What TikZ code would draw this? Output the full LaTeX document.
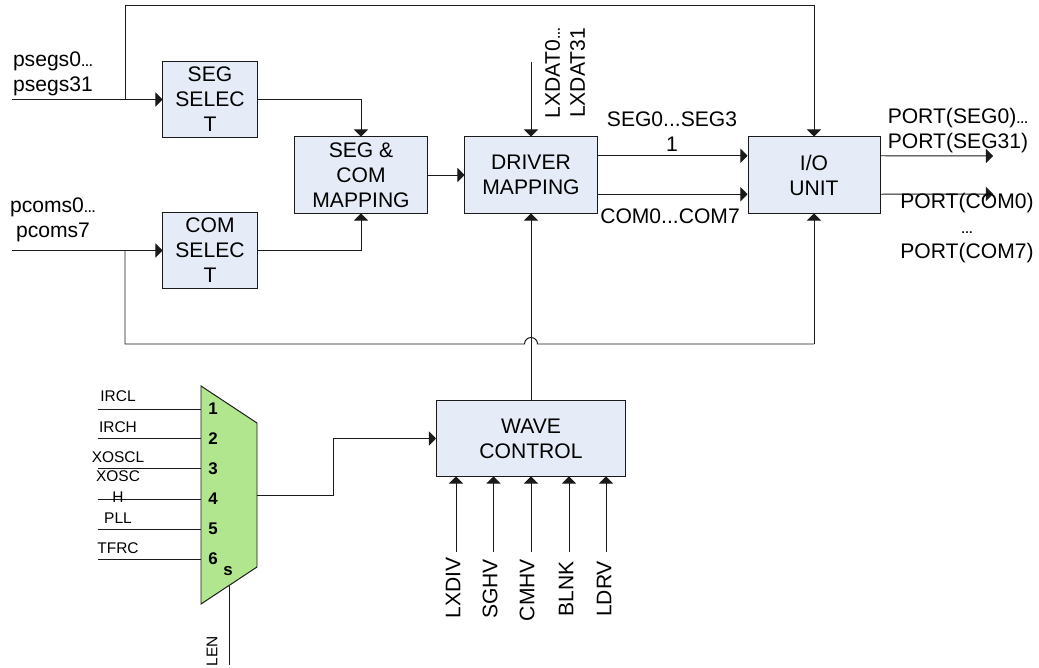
\documentclass[tikz,border=0pt]{standalone}
\usepackage{xcolor}
\usepackage{fontspec}
\usepackage{tikz}
\usetikzlibrary{arrows.meta,calc}
\setmainfont{Liberation Sans}
\definecolor{boxbg}{HTML}{E6ECF7}
\definecolor{muxbg}{HTML}{B2E68E}
\definecolor{wire}{HTML}{1A1A1A}
\newcommand{\tightdots}{{\fontsize{8.5}{8.5}\selectfont\bfseries …}}

\begin{document}
\begin{tikzpicture}[
  x=0.025cm, y=-0.025cm,
  block/.style={rectangle, draw=wire, fill=boxbg, line width=0.7pt, inner sep=0pt, align=center, font=\fontsize{15}{17.8}\selectfont},
  label/.style={inner sep=0pt, align=center, font=\fontsize{15}{17.8}\selectfont},
  small/.style={inner sep=0pt, align=center, font=\fontsize{11}{14.9}\selectfont},
  pin/.style={inner sep=0pt, font=\fontsize{12}{12}\selectfont\bfseries},
  wired/.style={draw=wire, line width=0.7pt},
  arrow/.style={-{Triangle[length=5pt, width=10pt]}, draw=wire, line width=0.7pt}
]
  \useasboundingbox (0, 0) rectangle (1039, 668);

  \node[block, minimum width=94*0.7113pt, minimum height=75*0.7113pt] (segSel) at (210, 99.5) {SEG\\SELEC\\T};
  \node[block, minimum width=94*0.7113pt, minimum height=75*0.7113pt] (comSel) at (210, 250.5) {COM\\SELEC\\T};
  \node[block, minimum width=132*0.7113pt, minimum height=76*0.7113pt] (mapping) at (361, 175) {SEG \&\\COM\\MAPPING};
  \node[block, minimum width=132*0.7113pt, minimum height=76*0.7113pt] (driver) at (531, 175) {DRIVER\\MAPPING};
  \node[block, minimum width=132*0.7113pt, minimum height=76*0.7113pt] (ioUnit) at (814, 175) {I/O\\UNIT};
  \node[block, minimum width=189*0.7113pt, minimum height=75*0.7113pt] (wave) at (531, 438.5) {WAVE\\CONTROL};

  % free ends and corners
  \coordinate (segIn) at (12, 99.5);
  \coordinate (segJoin) at (125, 99.5);
  \coordinate (topRun) at (125, 5);
  \coordinate (comIn) at (12, 250.5);
  \coordinate (comJoin) at (125, 250.5);
  \coordinate (busLeft) at (125, 344);
  \coordinate (hopLeft) at (524.5, 344);
  \coordinate (hopRight) at (537.5, 344);
  \coordinate (busRight) at (814, 344);
  \coordinate (lxdatIn) at (531, 62);
  \coordinate (segOut) at (993, 156);
  \coordinate (comOut) at (993, 194);

  \draw[arrow] (segIn) -- (segSel.west);
  \draw[arrow] (comIn) -- (comSel.west);
  \draw[wired] (segJoin) -- (topRun);
  \draw[arrow] (topRun) -| (ioUnit.north);
  \draw[arrow] (segSel.east) -| (mapping.north);
  \draw[arrow] (comSel.east) -| (mapping.south);
  \draw[arrow] (mapping) -- (driver);
  \draw[arrow] (lxdatIn) -- (driver.north);
  \draw[arrow] (wave.north) -- (driver.south);
  \draw[wired] (comJoin) -- (busLeft) -- (hopLeft) arc[start angle=180, end angle=0, radius=0.1625cm] -- (busRight);
  \draw[arrow] (busRight) -- (ioUnit.south);
  \draw[arrow] ($(driver.north east)!0.25!(driver.south east)$) -- ($(ioUnit.north west)!0.25!(ioUnit.south west)$);
  \draw[arrow] ($(driver.north east)!0.75!(driver.south east)$) -- ($(ioUnit.north west)!0.75!(ioUnit.south west)$);
  \draw[arrow] ($(ioUnit.north east)!0.25!(ioUnit.south east)$) -- (segOut);
  \draw[arrow] ($(ioUnit.north east)!0.75!(ioUnit.south east)$) -- (comOut);

  \node[label] (psegs) at (53, 74) {psegs0\tightdots\\psegs31};
  \node[label] (pcoms) at (53, 220) {pcoms0\tightdots\\pcoms7};
  \node[label, rotate=90] (lxdat) at (565, 73) {LXDAT0\tightdots\\LXDAT31};
  \node[label] (segBus) at (672, 132) {SEG0...SEG3\\1};
  \node[label] (comBus) at (670, 216) {COM0...COM7};
  \node[label] (portSeg) at (958, 130.5) {PORT(SEG0)\tightdots\\PORT(SEG31)};
  \node[label] (portCom) at (967, 228.5) {PORT(COM0)\\\tightdots\\PORT(COM7)};

  % clock selector
  \coordinate (muxTL) at (201, 386);
  \coordinate (muxTR) at (257, 423);
  \coordinate (muxBR) at (257, 567);
  \coordinate (muxBL) at (201, 604);
  \coordinate (muxOut) at (257, 495);
  \coordinate (muxLen) at (229, 585.5);
  \coordinate (lenIn) at (229, 665);
  \draw[wired, fill=muxbg] (muxTL) -- (muxTR) -- (muxBR) -- (muxBL) -- cycle;

  \node[pin] (pin1) at (213, 409) {1};
  \node[pin] (pin2) at (213, 438.5) {2};
  \node[pin] (pin3) at (213, 468.5) {3};
  \node[pin] (pin4) at (213, 499) {4};
  \node[pin] (pin5) at (213, 529) {5};
  \node[pin] (pin6) at (213, 559) {6};
  \node[pin] (pinS) at (228, 571) {s};

  \coordinate (irclIn) at (98, 409);
  \coordinate (irchIn) at (98, 438.5);
  \coordinate (xoslIn) at (98, 468.5);
  \coordinate (xoshIn) at (98, 499);
  \coordinate (pllIn) at (98, 529);
  \coordinate (tfrcIn) at (98, 559);
  \draw[wired] (irclIn) -- (pin1 -| muxTL);
  \draw[wired] (irchIn) -- (pin2 -| muxTL);
  \draw[wired] (xoslIn) -- (pin3 -| muxTL);
  \draw[wired] (xoshIn) -- (pin4 -| muxTL);
  \draw[wired] (pllIn) -- (pin5 -| muxTL);
  \draw[wired] (tfrcIn) -- (pin6 -| muxTL);
  \draw[wired] (lenIn) -- (muxLen);
  \draw[arrow] (muxOut) -- (333, 495) |- (wave.west);

  \node[small] (ircl) at (118, 396) {IRCL};
  \node[small] (irch) at (118, 427) {IRCH};
  \node[small] (xoscl) at (118, 457) {XOSCL};
  \node[small] (xosch) at (118, 486.5) {XOSC\\H};
  \node[small] (pll) at (118, 518) {PLL};
  \node[small] (tfrc) at (118, 548) {TFRC};
  \node[small, rotate=90] (len) at (212, 651) {LEN};

  % wave control inputs
  \coordinate (lxdivIn) at (456, 552);
  \coordinate (sghvIn) at (493.5, 552);
  \coordinate (cmhvIn) at (531, 552);
  \coordinate (blnkIn) at (569, 552);
  \coordinate (ldrvIn) at (606, 552);
  \draw[arrow] (lxdivIn) -- (lxdivIn |- wave.south);
  \draw[arrow] (sghvIn) -- (sghvIn |- wave.south);
  \draw[arrow] (cmhvIn) -- (cmhvIn |- wave.south);
  \draw[arrow] (blnkIn) -- (blnkIn |- wave.south);
  \draw[arrow] (ldrvIn) -- (ldrvIn |- wave.south);

  \node[label, rotate=90] (lxdiv) at (453, 588) {LXDIV};
  \node[label, rotate=90] (sghv) at (490, 589) {SGHV};
  \node[label, rotate=90] (cmhv) at (527, 590) {CMHV};
  \node[label, rotate=90] (blnk) at (566, 589) {BLNK};
  \node[label, rotate=90] (ldrv) at (604, 589) {LDRV};
\end{tikzpicture}
\end{document}
